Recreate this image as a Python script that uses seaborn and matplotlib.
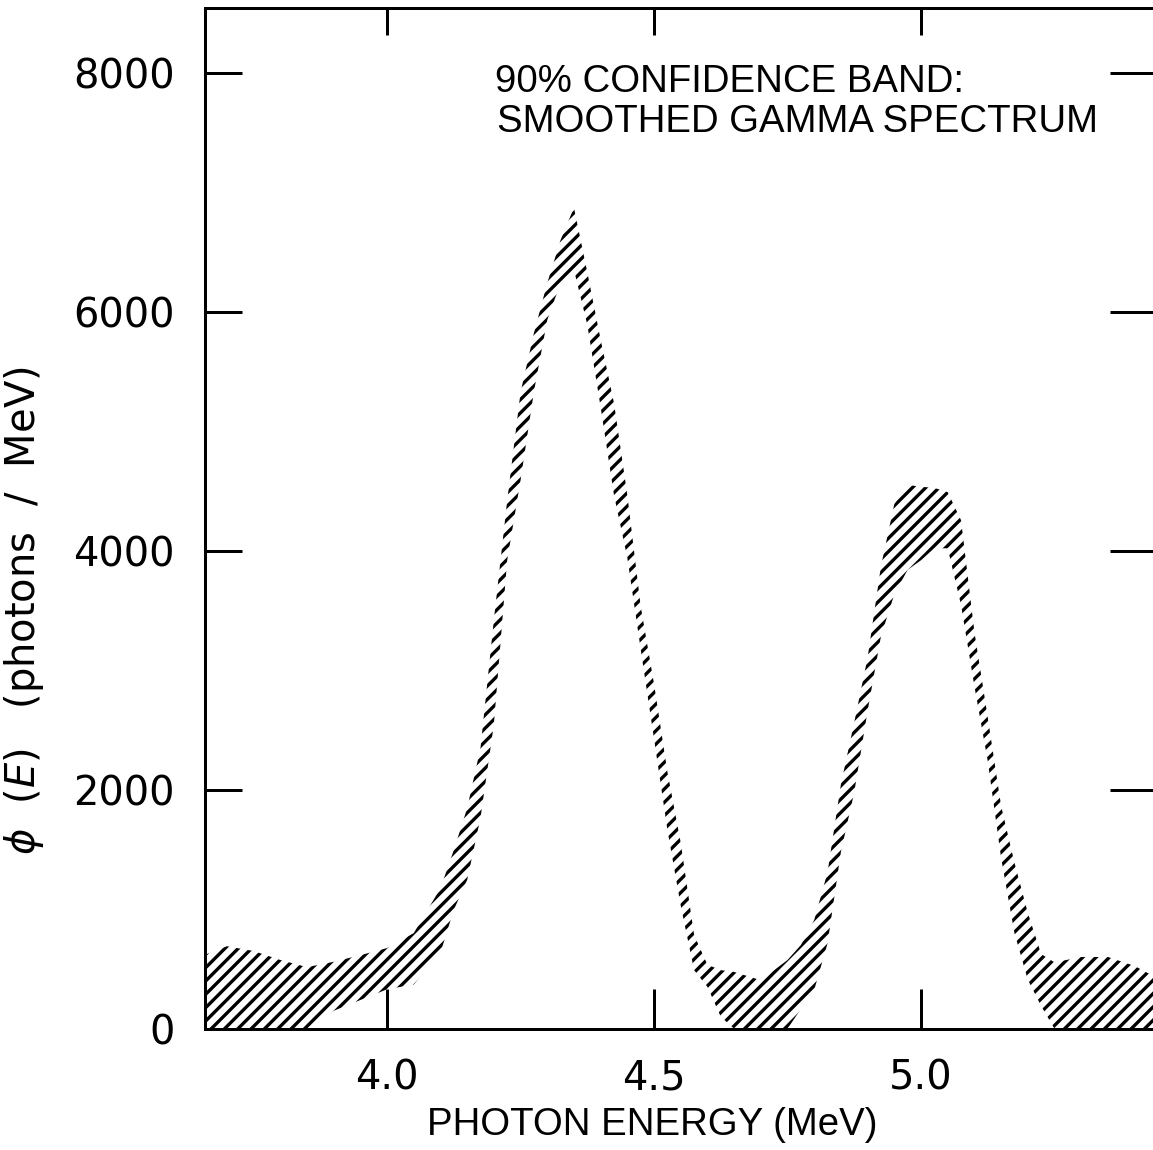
import seaborn as sns
import matplotlib.pyplot as plt

# photon energy grid (MeV) and the 90% confidence band
energy = [3.66, 3.70, 3.75, 3.80, 3.85, 3.90, 3.95, 4.00, 4.05, 4.10,
          4.125, 4.15, 4.175, 4.20, 4.225, 4.25, 4.275, 4.30, 4.325, 4.35,
          4.375, 4.40, 4.425, 4.45, 4.475, 4.50, 4.525, 4.55, 4.575, 4.60,
          4.625, 4.65, 4.70, 4.75, 4.775, 4.80, 4.825, 4.85, 4.875, 4.90,
          4.925, 4.95, 4.975, 5.00, 5.025, 5.05, 5.075, 5.10, 5.125, 5.15,
          5.175, 5.20, 5.225, 5.25, 5.30, 5.35, 5.40, 5.45]
upper = [620, 690, 650, 575, 515, 560, 615, 675, 800, 1175,
         1495, 1845, 2350, 3420, 4420, 5325, 5820, 6240, 6600, 6870,
         6330, 5765, 5235, 4465, 3535, 2885, 2150, 1555, 785, 535,
         490, 475, 405, 575, 700, 910, 1310, 2045, 2565, 3105,
         3870, 4390, 4550, 4535, 4525, 4490, 4255, 3320, 2605, 1865,
         1390, 970, 625, 555, 600, 600, 525, 405]
lower = [0, 0, 0, 0, 0, 150, 240, 330, 370, 635,
         995, 1245, 1765, 2545, 3920, 4590, 5330, 5930, 6240, 6350,
         5890, 5200, 4465, 3940, 3175, 2425, 1665, 1030, 490, 350,
         100, 0, 0, 0, 165, 325, 715, 1480, 1980, 2660,
         3285, 3635, 3840, 3920, 4020, 4020, 3545, 2865, 2240, 1430,
         800, 410, 190, 0, 0, 0, 0, 0]

xticks = [4.0, 4.5, 5.0]
xtick_labels = ["4.0", "4.5", "5.0"]
yticks = [0, 2000, 4000, 6000, 8000]
ytick_labels = ["0", "2000", "4000", "6000", "8000"]

sns.set_theme(style="ticks")
plt.rcParams.update({
    "font.family": ["Liberation Sans", "DejaVu Sans"],
    "axes.linewidth": 1.8,
    "axes.edgecolor": "black",
    "axes.labelcolor": "black",
    "hatch.linewidth": 2.0,
    "hatch.color": "black",
    "text.color": "black",
})

W, H, DPI = 1153, 1150, 120
fig = plt.figure(figsize=(W / DPI, H / DPI), dpi=DPI)
# right spine sits just off the picture, as in the original
ax = fig.add_axes([205 / W, 1 - 1028.7 / H, (1160 - 205) / W, (1028.7 - 8) / H])

ax.fill_between(energy, lower, upper, facecolor="none", edgecolor="black",
                linewidth=0, hatch="///")

ax.set_xlim(3.659, 5.4476)
ax.set_ylim(0, 8541)
ax.set_xticks(xticks, xtick_labels)
ax.set_yticks(yticks, ytick_labels)
ax.tick_params(direction="in", length=22, width=1.8, colors="black",
               top=True, right=True, labelsize=24, labelfontfamily="DejaVu Sans")
ax.tick_params(axis="y", pad=18)
ax.tick_params(axis="x", pad=18)

# tick marks differ in length on each side of the frame
for t in ax.xaxis.get_major_ticks():
    t.tick1line.set_markersize(24)
    t.tick2line.set_markersize(16)
for t in ax.yaxis.get_major_ticks():
    t.tick1line.set_markersize(22)
    t.tick2line.set_markersize(30)

ax.set_xlabel("PHOTON ENERGY (MeV)", fontsize=23)
ax.xaxis.set_label_coords(0.4686, -0.077)
ax.set_ylabel(r"$\phi$  $(E)$   (photons  /  MeV)", fontsize=24,
              family=["DejaVu Sans"])
ax.yaxis.set_label_coords(-0.167, 0.41)

fig.text(495 / W, 1 - 92 / H, "90% CONFIDENCE BAND:", fontsize=23, va="baseline")
fig.text(497 / W, 1 - 132 / H, "SMOOTHED GAMMA SPECTRUM", fontsize=23, va="baseline")

fig.savefig("out.png", dpi=DPI)
